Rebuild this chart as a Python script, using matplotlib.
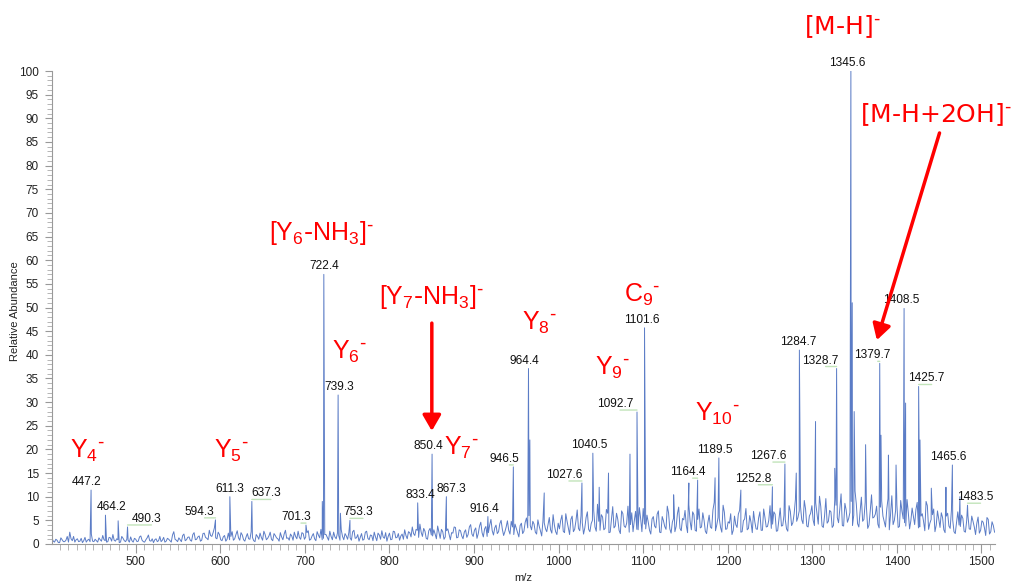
import numpy as np
import matplotlib
matplotlib.use("Agg")
import matplotlib.pyplot as plt
from matplotlib.ticker import MultipleLocator
from matplotlib.transforms import offset_copy

plt.rcParams.update({
    "font.family": ["Liberation Sans", "DejaVu Sans"],
    "mathtext.default": "regular",
})

# ---------------------------------------------------------------------------
# baseline noise, one reading every 3 m/z from each segment start
# (the *2 lists are the readings in between, 1.5 m/z later)
# ---------------------------------------------------------------------------
NOISE_STEP = 3
noise_a_start = 401
noise_a = [1.2, 0.4, 0.8, 0.3, 0.9, 0.5, 1.6, 2.5, 0.7, 0.4,
           1.1, 0.6, 0.3, 1.4, 0.8, 0.5, 0.6, 1.0, 0.4, 0.9,
           1.8, 0.7, 0.5, 1.3, 2.0, 0.6, 0.9, 0.4, 1.2, 0.5,
           0.8, 1.5, 0.4, 1.0, 0.6, 1.7, 0.5, 0.9, 1.9, 0.6,
           0.3, 1.1, 0.7, 0.5, 1.4, 0.6, 1.0, 0.4, 2.6, 0.8,
           1.3, 0.5, 2.1, 0.9, 1.5, 0.6, 2.4, 1.0, 1.7, 0.8,
           2.3, 1.2, 2.9, 1.6, 3.4, 1.1, 2.0, 0.7, 1.8, 1.0,
           0.9, 2.6, 1.1, 2.8, 0.8, 1.9, 0.6, 2.2, 1.0, 1.4,
           0.5, 1.6, 2.3, 0.8, 2.0, 1.2, 2.5, 0.7, 1.8, 1.1,
           2.4, 0.9, 2.9, 1.3, 2.1, 0.8, 1.6, 2.7, 1.0, 2.2]
noise_a2 = [0.6, 1.0, 0.3, 1.3, 0.5, 0.8, 0.4, 1.1, 1.6, 0.9,
            0.5, 1.2, 0.7, 0.4, 1.0, 2.1, 0.5, 0.7, 1.3, 0.6,
            0.9, 0.4, 1.4, 0.6, 0.8, 1.1, 0.3, 1.6, 0.7, 1.0,
            0.4, 0.7, 1.2, 0.5, 1.5, 0.8, 0.4, 1.3, 0.7, 1.1,
            0.9, 0.5, 1.6, 0.8, 0.4, 1.2, 0.7, 1.9, 1.0, 0.5,
            0.9, 1.8, 0.7, 1.4, 0.8, 2.0, 0.9, 1.5, 0.6, 2.2,
            1.4, 0.9, 1.8, 2.4, 1.3, 2.5, 0.9, 1.5, 0.6, 2.3,
            1.6, 0.8, 2.0, 1.3, 2.4, 0.9, 1.5, 1.1, 2.6, 0.7,
            2.0, 1.0, 1.4, 2.7, 0.9, 1.7, 1.0, 2.2, 1.3, 0.6,
            1.5, 2.1, 1.2, 0.8, 1.7, 2.5, 1.1, 1.4, 2.4, 1.0]
noise_b_start = 701
noise_b = [1.5, 2.8, 1.0, 2.2, 0.7, 1.9, 3.1, 1.2, 2.0, 0.8,
           1.6, 2.5, 1.1, 1.8, 3.0, 0.9, 1.7, 2.4, 0.8, 2.9,
           1.3, 0.6, 2.2, 1.0, 2.7, 0.9, 1.8, 2.5, 0.7, 1.9,
           2.8, 1.2, 0.6, 2.3, 1.0, 2.6, 1.4, 0.8, 2.1, 3.0,
           1.1, 2.4, 3.6, 1.8, 2.9, 4.2, 1.6, 2.7, 1.0, 3.3,
           1.7, 2.1, 3.8, 1.2, 2.6, 1.5, 3.2, 0.9, 2.3, 3.5,
           1.4, 2.8, 1.1, 3.0, 2.0, 4.1, 1.6, 3.4, 2.2, 4.6,
           1.5, 3.7, 2.4, 5.2, 1.9, 4.0, 2.6, 5.0, 1.8, 3.6,
           2.9, 4.8, 2.0, 3.3, 1.5, 4.4, 2.7, 5.5, 6.0, 3.0,
           4.2, 2.1, 3.8, 1.7, 4.5, 2.6, 5.6, 2.3, 4.0, 2.0]
noise_b2 = [2.4, 0.8, 1.7, 1.1, 2.6, 1.3, 0.9, 2.0, 1.4, 2.7,
            0.9, 1.5, 2.3, 0.8, 1.6, 2.2, 1.0, 1.3, 2.6, 1.2,
            2.0, 1.4, 0.8, 2.5, 1.2, 1.9, 0.7, 1.5, 2.3, 1.0,
            1.5, 2.4, 1.6, 0.9, 2.7, 1.3, 2.2, 1.7, 1.0, 1.8,
            2.6, 1.5, 2.2, 3.1, 1.4, 2.5, 3.3, 1.2, 2.8, 1.9,
            3.0, 1.1, 2.5, 3.1, 1.0, 2.8, 2.0, 2.4, 3.6, 1.3,
            3.0, 1.7, 2.5, 1.4, 3.6, 2.1, 2.9, 1.2, 3.8, 2.4,
            3.2, 1.6, 4.0, 2.8, 3.4, 2.2, 4.3, 3.1, 2.6, 4.9,
            2.1, 3.6, 4.2, 2.4, 3.9, 2.2, 4.6, 3.4, 3.9, 4.8,
            2.5, 5.1, 2.8, 4.9, 3.2, 4.1, 3.0, 6.2, 2.6, 4.4]
noise_c_start = 1001
noise_c = [3.2, 6.1, 2.4, 4.8, 2.0, 5.9, 3.1, 7.2, 2.8, 4.5,
           3.4, 6.8, 2.6, 5.0, 3.6, 8.4, 2.9, 5.7, 3.3, 6.5,
           2.5, 7.9, 3.8, 5.2, 2.2, 6.4, 3.5, 8.0, 4.1, 2.6,
           6.9, 3.0, 5.4, 7.5, 3.2, 4.6, 2.1, 5.8, 3.4, 7.0,
           2.4, 4.9, 3.1, 6.6, 2.3, 5.5, 3.7, 7.8, 2.8, 5.1,
           3.9, 8.3, 3.0, 6.2, 2.7, 7.4, 3.6, 5.0, 2.2, 6.1,
           3.3, 8.8, 4.0, 5.4, 2.5, 6.7, 3.2, 4.4, 2.0, 5.9,
           3.5, 7.1, 2.6, 5.3, 3.0, 6.0, 2.4, 4.7, 3.1, 6.8,
           2.9, 5.6, 3.7, 8.1, 4.2, 6.3, 2.8, 7.6, 3.9, 5.2,
           2.7, 6.9, 4.5, 9.4, 5.6, 8.0, 4.3, 7.4, 3.6, 6.5]
noise_c2 = [5.0, 2.7, 6.4, 3.4, 5.2, 2.6, 4.9, 3.3, 6.0, 2.1,
            5.6, 3.1, 4.3, 7.1, 2.7, 4.8, 6.2, 3.0, 7.3, 2.4,
            5.1, 3.4, 6.5, 2.9, 7.0, 3.8, 4.4, 2.5, 6.6, 4.9,
            3.1, 7.7, 2.6, 4.2, 6.1, 2.9, 5.3, 3.8, 6.3, 2.5,
            5.8, 3.7, 8.0, 3.2, 4.6, 2.6, 6.4, 3.3, 5.4, 7.1,
            2.4, 4.8, 6.8, 2.9, 5.2, 3.4, 6.6, 2.7, 4.5, 3.6,
            7.2, 2.8, 5.6, 3.5, 8.2, 3.1, 4.7, 6.4, 2.9, 4.1,
            6.3, 2.5, 4.9, 7.5, 3.3, 4.6, 6.9, 3.2, 5.5, 2.9,
            7.4, 3.6, 5.0, 3.3, 6.8, 2.7, 5.1, 3.8, 6.1, 3.2,
            8.1, 3.9, 6.4, 4.8, 7.0, 5.1, 9.2, 3.8, 5.9, 8.1]
noise_d_start = 1301
noise_d = [5.0, 8.7, 4.2, 7.9, 3.5, 9.6, 4.8, 6.8, 3.9, 8.2,
           4.5, 10.6, 3.8, 7.2, 5.4, 9.0, 6.1, 8.5, 3.6, 9.9,
           5.2, 7.7, 4.0, 10.4, 5.7, 8.0, 3.4, 9.1, 4.7, 7.3,
           3.0, 10.2, 5.0, 8.3, 3.7, 6.9, 4.5, 9.4, 3.2, 7.6,
           4.1, 8.8, 3.6, 6.4, 2.8, 8.1, 4.4, 6.2, 2.6, 7.0,
           3.5, 5.6, 2.4, 6.5, 3.3, 5.1, 2.2, 6.8, 3.7, 5.4,
           2.5, 6.0, 3.1, 4.8, 2.0, 5.7, 2.9, 4.6, 1.8, 5.2,
           2.6, 3.9]
noise_d2 = [3.9, 6.4, 10.1, 3.8, 6.0, 4.4, 7.1, 3.5, 9.3, 5.6,
            7.4, 3.9, 8.6, 4.6, 6.7, 3.9, 11.2, 4.3, 6.9, 4.8,
            8.8, 3.3, 7.0, 5.5, 6.3, 4.2, 7.8, 5.9, 3.6, 9.6,
            6.2, 4.1, 7.1, 3.5, 9.2, 5.3, 3.8, 6.6, 4.9, 5.8,
            7.3, 3.4, 5.9, 4.8, 9.0, 3.1, 5.2, 7.4, 4.0, 5.3,
            6.6, 3.0, 5.9, 3.8, 7.2, 2.6, 4.6, 4.0, 6.1, 2.7,
            4.9, 3.2, 5.9, 3.6, 4.4, 2.3, 4.9, 3.4, 5.6, 2.1,
            4.7, 2.5]

# labelled peaks (m/z, relative abundance)
peak_mz = [447.2, 464.2, 490.3, 594.3, 611.3, 637.3, 701.3, 722.4, 739.3,
           753.3, 833.4, 850.4, 867.3, 916.4, 946.5, 964.4, 1027.6, 1040.5,
           1092.7, 1101.6, 1164.4, 1189.5, 1252.8, 1267.6, 1284.7, 1328.7,
           1345.6, 1379.7, 1408.5, 1425.7, 1465.6, 1483.5]
peak_int = [11.4, 6.1, 3.6, 5.1, 10.0, 9.0, 4.0, 57.0, 31.5,
            5.0, 8.7, 19.0, 10.0, 5.8, 16.3, 37.1, 12.9, 19.2,
            27.9, 45.7, 13.5, 18.2, 12.1, 16.9, 41.0, 37.1,
            100.0, 38.2, 49.8, 33.3, 16.7, 8.2]
# horizontal shift of each peak label (pixels)
label_dx = [-4, 6, 19, -16, 0, 14, -10, 0, 1,
            8, 3, -4, 5, -4, -9, -4, -18, -4,
            -22, -3, -10, -4, -19, -17, -1, -16,
            -4, -7, -3, 8, -4, 8]

# unlabelled peaks / shoulders
extra_mz = [479.2, 720.6, 742.0, 966.0, 983.0, 1048.0, 1059.0, 1084.4,
            1136.0, 1154.0, 1185.0, 1215.5, 1281.0, 1303.8, 1326.5, 1347.2,
            1349.5, 1363.0, 1381.2, 1390.0, 1399.0, 1410.3, 1427.3, 1440.7,
            1458.0, 1474.5]
extra_int = [4.9, 9.0, 6.5, 22.0, 10.8, 12.0, 15.0, 19.0,
             10.4, 12.9, 14.0, 11.4, 15.0, 25.9, 16.0, 51.0,
             28.0, 21.0, 23.0, 18.8, 16.7, 29.8, 22.0, 11.8,
             12.0, 10.0]

# fragment assignments (red)
MINUS = r"^{\text{-}}"
frag_text = [r"$Y_4{}" + MINUS + "$", r"$Y_5{}" + MINUS + "$",
             r"$[Y_6\text{-}NH_3]" + MINUS + "$", r"$Y_6{}" + MINUS + "$",
             r"$[Y_7\text{-}NH_3]" + MINUS + "$", r"$Y_7{}" + MINUS + "$",
             r"$Y_8{}" + MINUS + "$", r"$Y_9{}" + MINUS + "$",
             r"$C_9{}" + MINUS + "$", r"$Y_{10}{}" + MINUS + "$",
             r"$\text{[M-H]}" + MINUS + "$",
             r"$\text{[M-H+2OH]}" + MINUS + "$"]
frag_mz = [443.3, 613.6, 720.0, 753.1, 850.1, 885.0, 977.8, 1064.1,
           1098.4, 1188.3, 1334.9, 1446.0]
frag_int = [19.7, 19.7, 65.8, 40.6, 52.2, 20.3, 46.7, 37.2,
            52.6, 27.5, 109.3, 90.7]
arrow_from = [(850.1, 46.7), (1450.4, 86.9)]
arrow_to = [(850.1, 23.9), (1376.3, 43.1)]

# ---------------------------------------------------------------------------
# assemble the trace
# ---------------------------------------------------------------------------
mz, ab = [], []
for start, vals, vals2 in [(noise_a_start, noise_a, noise_a2),
                           (noise_b_start, noise_b, noise_b2),
                           (noise_c_start, noise_c, noise_c2),
                           (noise_d_start, noise_d, noise_d2)]:
    mz.extend(start + NOISE_STEP * np.arange(len(vals)))
    ab.extend(vals)
    mz.extend(start + NOISE_STEP / 2 + NOISE_STEP * np.arange(len(vals2)))
    ab.extend(vals2)
mz.extend(peak_mz); ab.extend(peak_int)
mz.extend(extra_mz); ab.extend(extra_int)
mz, ab = np.array(mz, float), np.array(ab, float)
order = np.argsort(mz)
mz, ab = mz[order], ab[order]

fig = plt.figure(figsize=(10.13, 5.85), dpi=100)
ax = fig.add_axes([52/1013, 41/585, 943/1013, 473/585])
ax.plot(mz, ab, color="#5b7cc6", lw=0.7)

ax.set_xlim(401, 1516)
ax.set_ylim(0, 100)
ax.xaxis.set_major_locator(MultipleLocator(100))
ax.xaxis.set_minor_locator(MultipleLocator(10))
ax.yaxis.set_major_locator(MultipleLocator(5))
ax.yaxis.set_minor_locator(MultipleLocator(1))
for s in ("top", "right"):
    ax.spines[s].set_visible(False)
for s in ("left", "bottom"):
    ax.spines[s].set_color("#999999")
    ax.spines[s].set_linewidth(0.8)
ax.tick_params(axis="y", which="major", length=5, width=0.8, color="#999999",
               pad=4.5, labelsize=8.5, labelcolor="#222222")
ax.tick_params(axis="y", which="minor", length=3.5, width=0.6, color="#aaaaaa")
ax.tick_params(axis="x", which="major", length=6.5, width=0.8, color="#999999",
               pad=2, labelsize=8.5, labelcolor="#222222")
ax.tick_params(axis="x", which="minor", length=4.3, width=0.6, color="#aaaaaa")

fig.text(15/1013, 1 - 311/585, "Relative Abundance", rotation=90,
         ha="center", va="center", fontsize=8, color="#222222")
fig.text(523/1013, 1 - 578/585, "m/z", ha="center", va="center",
         fontsize=8, color="#222222")

# peak labels with the faint green leader underneath
lift = offset_copy(ax.transData, fig=fig, x=0, y=2, units="dots")
for m, h, dx in zip(peak_mz, peak_int, label_dx):
    ax.annotate(f"{m:.1f}", xy=(m, h), xytext=(dx, 8),
                textcoords="offset pixels", ha="center", va="center",
                fontsize=8.6, color="#111111", annotation_clip=False)
    if abs(dx) > 6:
        ax.annotate("", xy=(m, h), xycoords=lift, xytext=(dx + 5, 0),
                    textcoords="offset pixels",
                    arrowprops=dict(arrowstyle="-", color="#c2e4ba", lw=1,
                                    shrinkA=0, shrinkB=0))

for t, m, h in zip(frag_text, frag_mz, frag_int):
    ax.text(m, h, t, ha="center", va="center", fontsize=18, color="red",
            clip_on=False)

for a, b in zip(arrow_from, arrow_to):
    ax.annotate("", xy=b, xytext=a, annotation_clip=False,
                arrowprops=dict(arrowstyle="-|>,head_length=0.95,head_width=0.55",
                                mutation_scale=10, color="red", lw=2.5,
                                shrinkA=0, shrinkB=0))

fig.savefig("out.png", dpi=100)
